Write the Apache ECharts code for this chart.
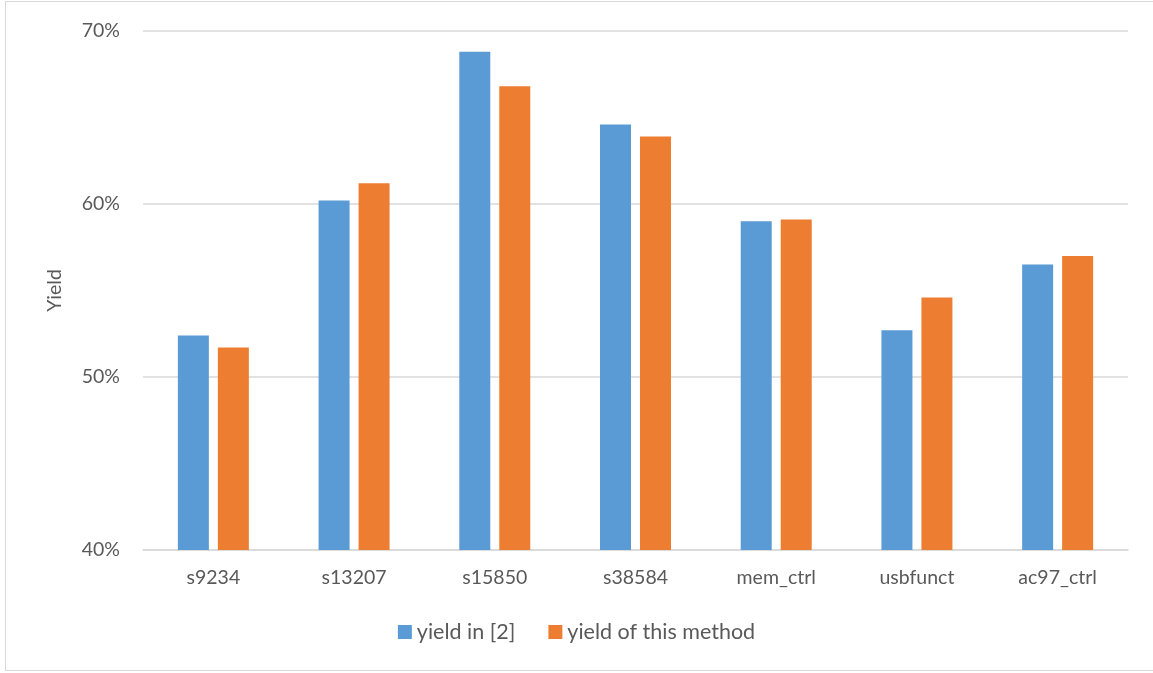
<!DOCTYPE html>
<html>
<head>
<meta charset="utf-8">
<script src="https://cdn.jsdelivr.net/npm/echarts@6/dist/echarts.min.js"></script>
<style>
  html, body { margin: 0; padding: 0; background: #fff; }
  #frame { position: absolute; left: 5px; top: 1px; width: 1150px; height: 670px; border: 1px solid #d9d9d9; border-right: none; box-sizing: border-box; }
  #chart { position: absolute; left: 0; top: 0; width: 1153px; height: 673px; }
</style>
</head>
<body>
<div id="frame"></div>
<div id="chart"></div>
<script>
const categories = ['s9234', 's13207', 's15850', 's38584', 'mem_ctrl', 'usbfunct', 'ac97_ctrl'];
const yieldRef = [52.4, 60.2, 68.8, 64.6, 59.0, 52.7, 56.5];
const yieldOurs = [51.7, 61.2, 66.8, 63.9, 59.1, 54.6, 57.0];
const seriesNames = ['yield in [2]', 'yield of this method'];

const font = 'Lato, "Open Sans", sans-serif';
const textColor = '#595959';

const chart = echarts.init(document.getElementById('chart'));
chart.setOption({
  animation: false,
  textStyle: { fontFamily: font },
  grid: { left: 143, right: 25, top: 31, bottom: 123 },
  legend: {
    bottom: 25,
    left: 'center',
    itemWidth: 14,
    itemHeight: 14,
    itemGap: 33,
    icon: 'rect',
    textStyle: { fontSize: 21.5, color: textColor, fontFamily: font },
    data: seriesNames
  },
  xAxis: {
    type: 'category',
    data: categories,
    axisLine: { lineStyle: { color: '#d9d9d9', width: 1.5 } },
    axisTick: { show: false },
    axisLabel: { fontSize: 19.5, color: textColor, margin: 18, fontFamily: font }
  },
  yAxis: {
    type: 'value',
    min: 40,
    max: 70,
    interval: 10,
    name: 'Yield',
    nameLocation: 'middle',
    nameGap: 78,
    nameRotate: 90,
    nameTextStyle: { fontSize: 19.5, color: textColor, fontFamily: font },
    axisLine: { show: false },
    axisTick: { show: false },
    axisLabel: { fontSize: 19.5, color: textColor, margin: 23, formatter: v => v + '%', fontFamily: font },
    splitLine: { lineStyle: { color: '#d9d9d9', width: 1.5 } }
  },
  series: [
    {
      name: seriesNames[0],
      type: 'bar',
      data: yieldRef,
      barWidth: 31,
      barGap: '29%',
      itemStyle: { color: '#5B9BD5' }
    },
    {
      name: seriesNames[1],
      type: 'bar',
      data: yieldOurs,
      barWidth: 31,
      barGap: '29%',
      itemStyle: { color: '#ED7D31' }
    }
  ]
});
</script>
</body>
</html>
